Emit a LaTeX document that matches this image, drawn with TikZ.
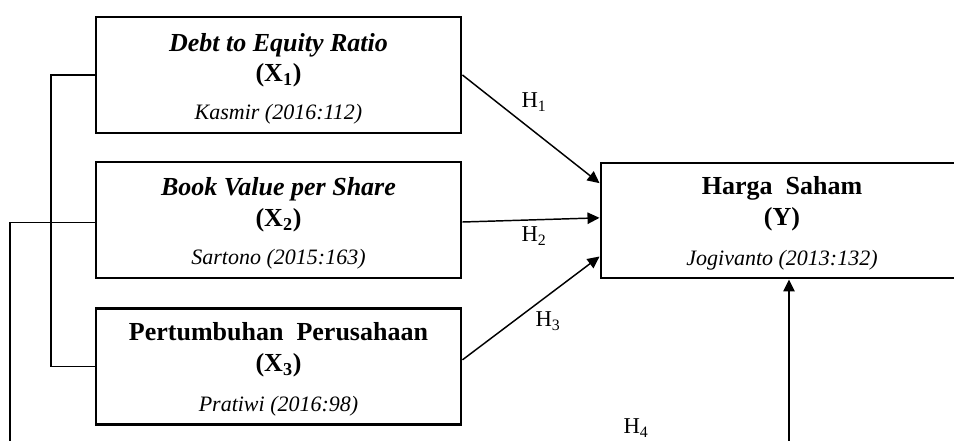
\documentclass[tikz,border=0pt]{standalone}
\usepackage{fontspec}
\setmainfont{Liberation Serif}
\usetikzlibrary{positioning,calc,arrows.meta}
\tikzset{
	varbox/.style={draw=black,line width=2.2pt,minimum width=273.75pt,minimum height=87pt,inner sep=0pt},
	ttl/.style={font=\fontsize{19.5}{21}\selectfont\bfseries,inner sep=0pt,anchor=base},
	src/.style={font=\fontsize{16.5}{18}\selectfont\itshape,inner sep=0pt,anchor=base},
	hyp/.style={font=\fontsize{17}{19}\selectfont,inner sep=0pt},
	link/.style={draw=black,line width=1.1pt},
	arr/.style={link,-{Triangle[length=9pt,width=8.5pt]}},
}

\begin{document}
\begin{tikzpicture}[x=0.75pt,y=-0.75pt]
	\useasboundingbox (0,0) rectangle (954,440);
	% variable boxes
	\node[varbox] (x1) at (278.5,75) {};
	\node[varbox] (x2) at (278.5,220) {};
	\node[varbox] (x3) at (278.5,366.5) {};
	\node[varbox,minimum width=271.5pt,minimum height=86.25pt] (y) at (782,220.5) {};
	% texts
	\node[ttl] (x1t) at ($(x1.north)+(0,36)$) {\textit{Debt to Equity Ratio}};
	\node[ttl] (x1v) at ($(x1.north)+(0,66)$) {(X\textsubscript{1})};
	\node[src] (x1s) at ($(x1.north)+(0,104)$) {Kasmir (2016:112)};
	\node[ttl] (x2t) at ($(x2.north)+(0,35)$) {\textit{Book Value per Share}};
	\node[ttl] (x2v) at ($(x2.north)+(0,66)$) {(X\textsubscript{2})};
	\node[src] (x2s) at ($(x2.north)+(0,104)$) {Sartono (2015:163)};
	\node[ttl] (x3t) at ($(x3.north)+(0,33)$) {Pertumbuhan\ \ Perusahaan};
	\node[ttl] (x3v) at ($(x3.north)+(0,64)$) {(X\textsubscript{3})};
	\node[src] (x3s) at ($(x3.north)+(0,104)$) {Pratiwi (2016:98)};
	\node[ttl] (yt) at ($(y.north)+(0,33)$) {Harga\ \ Saham};
	\node[ttl] (yv) at ($(y.north)+(0,64)$) {(Y)};
	\node[src] (ys) at ($(y.north)+(0,104)$) {Jogivanto (2013:132)};
	% free ends
	\coordinate (bk) at (51,0);
	\coordinate (m1) at (10,445);
	\coordinate (m4) at (789,445);
	% connectors
	\draw[link] (x1.west) -| (bk |- x3.west) -- (x3.west);
	\draw[link] ([yshift=-2pt]x2.west) -| (m1);
	\draw[arr] (x1.east) -- ([yshift=28pt]y.west);
	\draw[arr] ([yshift=-1.5pt]x2.east) -- ([yshift=2pt]y.west);
	\draw[arr] ([yshift=5pt]x3.east) -- ([yshift=-27pt]y.west);
	\draw[arr] (m4) -- (m4 |- y.south);
	% hypotheses
	\node[hyp] (h1) at (534,102) {H\textsubscript{1}};
	\node[hyp] (h2) at (534,236) {H\textsubscript{2}};
	\node[hyp] (h3) at (548,321) {H\textsubscript{3}};
	\node[hyp] (h4) at (636,428) {H\textsubscript{4}};
\end{tikzpicture}
\end{document}
